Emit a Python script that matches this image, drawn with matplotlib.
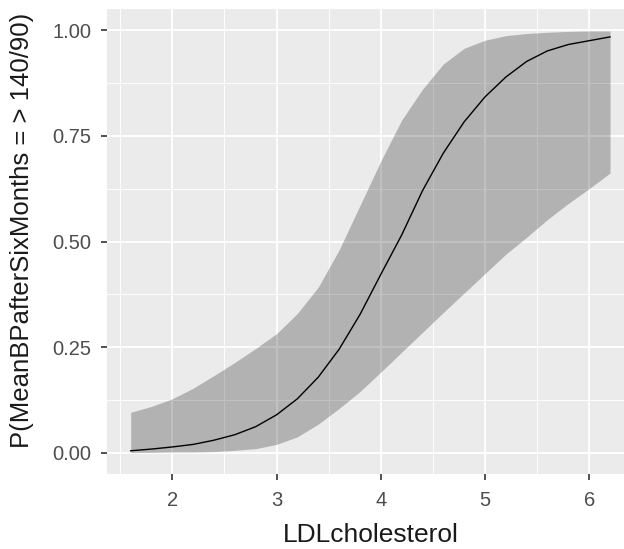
import numpy as np
import matplotlib.pyplot as plt
from matplotlib.ticker import FixedLocator

plt.rcParams['font.family'] = ['Liberation Sans', 'DejaVu Sans']

# values
ldl = [1.6, 1.8, 2.0, 2.2, 2.4, 2.6, 2.8, 3.0, 3.2, 3.4, 3.6, 3.8,
       4.0, 4.2, 4.4, 4.6, 4.8, 5.0, 5.2, 5.4, 5.6, 5.8, 6.0, 6.2]
prob = [0.005, 0.009, 0.014, 0.020, 0.030, 0.043, 0.062, 0.090, 0.128, 0.179, 0.245, 0.327,
        0.422, 0.515, 0.620, 0.709, 0.783, 0.842, 0.889, 0.926, 0.951, 0.966, 0.975, 0.984]
upper = [0.096, 0.110, 0.128, 0.153, 0.183, 0.214, 0.247, 0.282, 0.330, 0.392, 0.480, 0.585,
         0.690, 0.787, 0.860, 0.920, 0.957, 0.976, 0.987, 0.992, 0.995, 0.997, 0.998, 0.998]
lower = [0.001, 0.001, 0.002, 0.002, 0.003, 0.006, 0.010, 0.020, 0.038, 0.068, 0.105, 0.145,
         0.191, 0.238, 0.285, 0.332, 0.378, 0.424, 0.470, 0.510, 0.552, 0.590, 0.625, 0.662]
xticks = [2, 3, 4, 5, 6]
yticks = [0.00, 0.25, 0.50, 0.75, 1.00]
ytick_labels = ["0.00", "0.25", "0.50", "0.75", "1.00"]

fig = plt.figure(figsize=(6.24, 5.49), dpi=100)
# panel runs past the right edge, as in the reference
ax = fig.add_axes([0.171, 0.1366, 0.845, 0.847])
ax.set_facecolor('#EBEBEB')

ax.fill_between(ldl, lower, upper, color='black', alpha=0.24, linewidth=0, zorder=2)
ax.plot(ldl, prob, color='black', linewidth=1.0, zorder=3)

ax.set_xlim(1.37, 6.43)
ax.set_ylim(-0.05, 1.05)
ax.set_xticks(xticks)
ax.set_yticks(yticks)
ax.set_yticklabels(ytick_labels)
ax.xaxis.set_minor_locator(FixedLocator([1.5, 2.5, 3.5, 4.5, 5.5]))
ax.yaxis.set_minor_locator(FixedLocator([0.125, 0.375, 0.625, 0.875]))

ax.grid(which='major', color='white', linewidth=1.3, zorder=1)
ax.grid(which='minor', color='white', linewidth=0.65, zorder=1)
ax.set_axisbelow(True)
for s in ax.spines.values():
    s.set_visible(False)

ax.tick_params(which='major', length=4.3, width=1.2, color='#333333',
               labelcolor='#4D4D4D', labelsize=14.5)
ax.tick_params(axis='y', pad=7)
ax.tick_params(axis='x', pad=8)
ax.tick_params(which='minor', length=0)

ax.set_xlabel('LDLcholesterol', fontsize=19, color='#1a1a1a', labelpad=9)
ax.set_ylabel('P(MeanBPafterSixMonths = > 140/90)', fontsize=18.5, color='#1a1a1a')
ax.yaxis.set_label_coords(-0.137, 0.525)

fig.savefig('out.png', dpi=100)
